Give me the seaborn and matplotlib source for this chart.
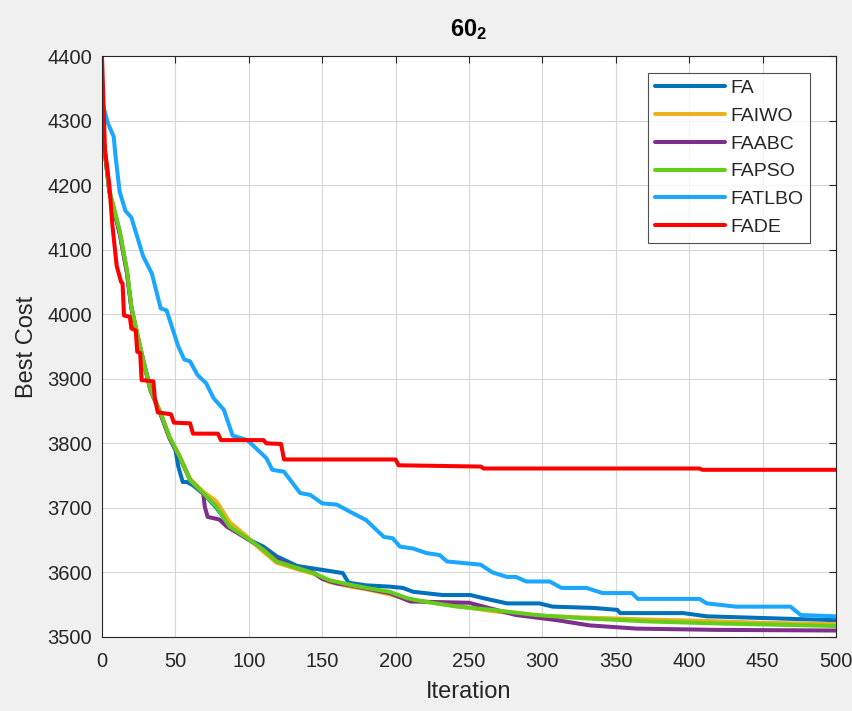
import seaborn as sns
import pandas as pd
import matplotlib.pyplot as plt

sns.set_style("white")
plt.rcParams['font.family'] = ['Liberation Sans', 'DejaVu Sans']
plt.rcParams['mathtext.fontset'] = 'custom'
plt.rcParams['mathtext.rm'] = 'Liberation Sans'
plt.rcParams['mathtext.bf'] = 'Liberation Sans:bold'

# breakpoints (iteration, best cost)
fa_it = [0, 2, 5, 12, 17, 20, 24, 28, 33, 40, 46, 50, 52, 55, 58, 62, 70, 78, 87, 99, 110, 119, 133,
         150, 164, 168, 180, 196, 205, 212, 232, 251, 260, 276, 298, 307, 335, 351, 353, 396, 412, 500]
fa_val = [4300, 4250, 4190, 4128, 4066, 4010, 3968, 3930, 3885, 3845, 3808, 3790, 3764, 3740, 3740, 3735,
          3720, 3700, 3672, 3652, 3640, 3625, 3610, 3604, 3599, 3584, 3580, 3578, 3576, 3570, 3565, 3565,
          3560, 3552, 3552, 3547, 3545, 3542, 3537, 3537, 3532, 3526]

faiwo_it = [0, 2, 5, 12, 17, 20, 24, 28, 33, 40, 46, 53, 60, 69, 78, 87, 99, 110, 119, 133, 144, 155,
            169, 180, 196, 210, 242, 266, 296, 330, 373, 410, 450, 500]
faiwo_val = [4300, 4252, 4192, 4128, 4066, 4012, 3970, 3930, 3884, 3846, 3810, 3780, 3745, 3725, 3710,
             3678, 3655, 3632, 3615, 3605, 3598, 3585, 3578, 3574, 3566, 3558, 3548, 3540, 3533, 3530,
             3527, 3525, 3522, 3520]

faabc_it = [0, 2, 5, 12, 17, 20, 24, 28, 33, 40, 46, 53, 60, 69, 70, 72, 80, 85, 99, 110, 119, 133,
            144, 150, 160, 169, 180, 196, 210, 250, 260, 282, 310, 332, 364, 419, 500]
faabc_val = [4300, 4250, 4190, 4125, 4064, 4010, 3968, 3928, 3882, 3845, 3808, 3778, 3743, 3722, 3702,
             3686, 3682, 3671, 3652, 3636, 3620, 3607, 3600, 3590, 3583, 3580, 3575, 3568, 3555, 3553,
             3547, 3534, 3526, 3518, 3513, 3511, 3510]

fapso_it = [0, 2, 5, 12, 17, 20, 24, 28, 33, 40, 46, 49, 53, 60, 69, 78, 87, 99, 110, 119, 133, 144,
            155, 169, 180, 196, 208, 219, 242, 266, 296, 328, 373, 419, 500]
fapso_val = [4290, 4254, 4192, 4130, 4068, 4012, 3970, 3929, 3883, 3847, 3810, 3797, 3779, 3743, 3723,
             3702, 3671, 3653, 3635, 3617, 3607, 3599, 3588, 3581, 3576, 3570, 3560, 3555, 3547, 3542,
             3534, 3529, 3524, 3521, 3517]

fatlbo_it = [0, 4, 8, 9, 12, 16, 20, 24, 28, 34, 40, 44, 52, 56, 60, 65, 71, 76, 83, 89, 99, 112, 116,
             124, 135, 142, 150, 160, 169, 180, 192, 198, 203, 212, 221, 230, 235, 258, 266, 276, 282,
             289, 305, 313, 330, 341, 361, 365, 407, 412, 432, 469, 476, 500]
fatlbo_val = [4330, 4296, 4275, 4250, 4190, 4160, 4150, 4120, 4090, 4063, 4009, 4006, 3950, 3930, 3927,
              3906, 3893, 3870, 3852, 3812, 3805, 3777, 3759, 3756, 3723, 3720, 3707, 3705, 3694, 3681,
              3655, 3653, 3640, 3637, 3630, 3627, 3617, 3612, 3600, 3593, 3593, 3586, 3586, 3576, 3576,
              3568, 3568, 3559, 3559, 3552, 3547, 3547, 3534, 3532]

fade_it = [0, 1, 2, 5, 7, 10, 13, 14, 15, 19, 20, 23, 24, 26, 27, 35, 36, 38, 47, 49, 60, 62, 79, 81,
           110, 112, 122, 124, 200, 202, 258, 260, 407, 409, 500]
fade_val = [4400, 4330, 4255, 4200, 4140, 4075, 4050, 4048, 3998, 3996, 3978, 3975, 3942, 3940, 3898,
            3896, 3870, 3848, 3845, 3832, 3831, 3815, 3815, 3805, 3805, 3800, 3799, 3775, 3775, 3766,
            3764, 3761, 3761, 3759, 3759]

series = [
    ("FA", fa_it, fa_val, "#0072BD"),
    ("FAIWO", faiwo_it, faiwo_val, "#EDB120"),
    ("FAABC", faabc_it, faabc_val, "#7E2F8E"),
    ("FAPSO", fapso_it, fapso_val, "#66CC1A"),
    ("FATLBO", fatlbo_it, fatlbo_val, "#1AA7FF"),
    ("FADE", fade_it, fade_val, "#FF0000"),
]

fig = plt.figure(figsize=(8.52, 7.11), dpi=100, facecolor="#F0F0F0")
ax = fig.add_axes([0.1197, 0.1041, 0.8615, 0.8171])
ax.set_facecolor("white")

for name, it, val, col in series:
    df = pd.DataFrame({"Iteration": it, "Best Cost": val})
    sns.lineplot(data=df, x="Iteration", y="Best Cost", color=col, lw=2.9, label=name,
                 estimator=None, sort=False, ax=ax)

ax.set_xlim(0, 500)
ax.set_ylim(3500, 4400)
ax.set_xticks(range(0, 501, 50))
ax.set_yticks(range(3500, 4401, 100))
ax.grid(True, color="#D6D6D6", lw=0.8)
ax.tick_params(direction="in", length=5, labelsize=14.5, top=True, right=True,
               labeltop=False, labelright=False, colors="#262626", width=0.8)
ax.tick_params(axis="y", pad=7)
ax.tick_params(axis="x", pad=11)
for s in ax.spines.values():
    s.set_color("#262626")
    s.set_linewidth(0.8)
ax.set_xlabel("Iteration", fontsize=17, color="#262626", labelpad=7)
ax.set_ylabel("Best Cost", fontsize=17, color="#262626", labelpad=7)
ax.set_title(r"$\mathbf{60_2}$", fontsize=17, color="#000000", pad=14)

leg = ax.legend(loc="upper right", bbox_to_anchor=(0.965, 0.971), fontsize=14, frameon=True,
                fancybox=False, edgecolor="#262626", handlelength=3.6, borderpad=0.35,
                labelspacing=0.52, handletextpad=0.3, borderaxespad=0)
leg.get_frame().set_linewidth(0.8)

fig.savefig("out.png", dpi=100, facecolor=fig.get_facecolor())
